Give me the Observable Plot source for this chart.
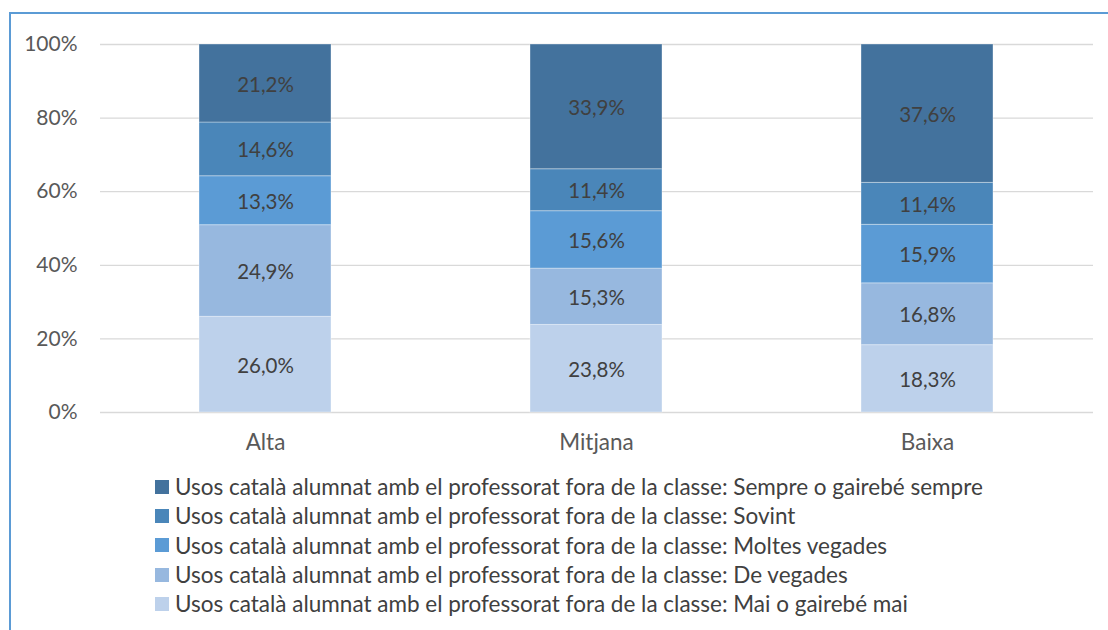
<!DOCTYPE html>
<html>
<head>
<meta charset="utf-8">
<script src="https://cdn.jsdelivr.net/npm/d3@7"></script>
<script src="https://cdn.jsdelivr.net/npm/@observablehq/plot@0.6"></script>
<style>
  html, body { margin: 0; padding: 0; background: #fff; }
  body { width: 1108px; height: 630px; position: relative; overflow: hidden; font-family: Lato, "Open Sans", sans-serif; }
  #frame { position: absolute; left: 9px; top: 12px; width: 1120px; height: 640px; border-top: 2px solid #5B9BD5; border-left: 2px solid #5B9BD5; box-sizing: border-box; }
  #chart { position: absolute; left: 0; top: 0; }
  #legend { position: absolute; left: 155px; top: 472px; }
  .li { display: flex; align-items: center; height: 29.3px; font-size: 22.5px; color: #404040; white-space: nowrap; }
  .sw { width: 14px; height: 14px; margin-right: 6px; flex: none; }
</style>
</head>
<body>
<div id="frame"></div>
<div id="chart"></div>
<div id="legend"></div>
<script>
const categories = ["Alta", "Mitjana", "Baixa"];
const series = [
  "Usos català alumnat amb el professorat fora de la classe: Mai o gairebé mai",
  "Usos català alumnat amb el professorat fora de la classe: De vegades",
  "Usos català alumnat amb el professorat fora de la classe: Moltes vegades",
  "Usos català alumnat amb el professorat fora de la classe: Sovint",
  "Usos català alumnat amb el professorat fora de la classe: Sempre o gairebé sempre"
];
const colors = ["#BDD1EB", "#97B8DF", "#5B9BD5", "#4A86B9", "#43729D"];
const maiValues = [26.0, 23.8, 18.3];
const deVegadesValues = [24.9, 15.3, 16.8];
const moltesValues = [13.3, 15.6, 15.9];
const sovintValues = [14.6, 11.4, 11.4];
const sempreValues = [21.2, 33.9, 37.6];
const yTicks = [0, 20, 40, 60, 80, 100];

const valueArrays = [maiValues, deVegadesValues, moltesValues, sovintValues, sempreValues];
const data = [];
series.forEach((s, si) => categories.forEach((c, ci) => data.push({category: c, series: s, value: valueArrays[si][ci]})));

const fmt = v => v.toFixed(1).replace(".", ",") + "%";

const chart = Plot.plot({
  width: 1108,
  height: 460,
  marginTop: 44,
  marginBottom: 48,
  marginLeft: 100,
  marginRight: 15,
  style: {fontFamily: "Lato, 'Open Sans', sans-serif", fontSize: "21px", color: "#595959", background: "transparent"},
  x: {domain: categories, paddingInner: 0.6, paddingOuter: 0.3, label: null, tickSize: 0, tickPadding: 22},
  y: {domain: [0, 100], ticks: yTicks, tickFormat: d => d + "%", label: null, tickSize: 0, tickPadding: 23},
  color: {domain: series, range: colors},
  marks: [
    Plot.gridY(yTicks, {stroke: "#D9D9D9", strokeOpacity: 1, strokeWidth: 1.3}),
    Plot.barY(data, Plot.stackY({x: "category", y: "value", fill: "series", order: series, stroke: "#fff", strokeOpacity: 0.35, strokeWidth: 1})),
    Plot.textY(data, Plot.stackY({x: "category", y: "value", z: "series", order: series, text: d => fmt(d.value), fill: "#404040", fontSize: 20.5, dy: 1.5})),
    Plot.axisX({tickSize: 0, tickPadding: 22, fontSize: 22.5, fill: "#595959"})
  ]
});
document.getElementById("chart").appendChild(chart);

const legend = document.getElementById("legend");
series.slice().reverse().forEach((s, i) => {
  const row = document.createElement("div");
  row.className = "li";
  const sw = document.createElement("span");
  sw.className = "sw";
  sw.style.background = colors[colors.length - 1 - i];
  const t = document.createElement("span");
  t.textContent = s;
  row.appendChild(sw); row.appendChild(t);
  legend.appendChild(row);
});
</script>
</body>
</html>
